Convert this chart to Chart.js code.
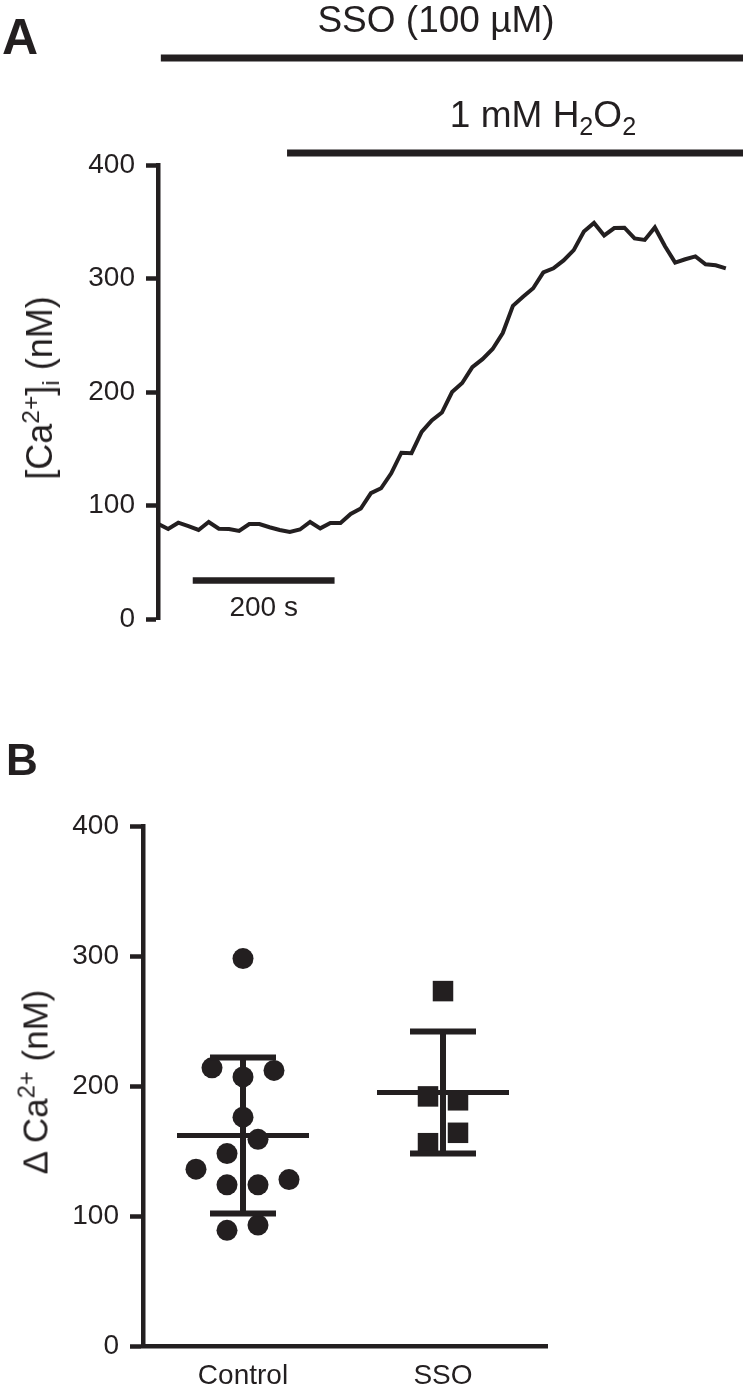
<!DOCTYPE html>
<html>
<head>
<meta charset="utf-8">
<script src="https://cdn.jsdelivr.net/npm/chart.js@4.4.1/dist/chart.umd.min.js"></script>
<style>
  body { margin: 0; background: #fff; font-family: "Liberation Sans", Arial, sans-serif; color: #231f20; }
  #page { position: relative; width: 743px; height: 1393px; overflow: hidden; }
  .box { position: absolute; left: 0; width: 743px; }
  .lbl { position: absolute; white-space: nowrap; line-height: 1; }
  .mid { transform: translateX(-50%); }
  .panel { font-weight: bold; }
  .rot { position: absolute; width: 0; height: 0; }
  .rot span { position: absolute; left: 0; top: 0; white-space: nowrap; line-height: 1;
              transform: translate(-50%, -50%) rotate(-90deg); }
  sub { font-size: 0.68em; vertical-align: -0.3em; line-height: 0; }
  sup { font-size: 0.68em; vertical-align: 0.55em; line-height: 0; }
</style>
</head>
<body>
<div id="page">
  <div class="box" style="top:0;height:647px"><canvas id="traceChart"></canvas></div>
  <div class="box" style="top:720px;height:675px"><canvas id="dotChart"></canvas></div>

  <div class="lbl panel" style="left:2px;top:12px;font-size:50px">A</div>
  <div class="lbl mid" style="left:436px;top:1px;font-size:37px">SSO (100 µM)</div>
  <div class="lbl mid" style="left:543px;top:96px;font-size:37px">1 mM H<sub>2</sub>O<sub>2</sub></div>
  <div class="rot" style="left:40px;top:388px"><span style="font-size:36px">[Ca<sup>2+</sup>]<sub>i</sub> (nM)</span></div>

  <div class="lbl panel" style="left:6px;top:738px;font-size:44px">B</div>
  <div class="rot" style="left:35px;top:1082px"><span style="font-size:35px">Δ Ca<sup>2+</sup> (nM)</span></div>
</div>

<script>
const INK = '#231f20';
const FONT = '"Liberation Sans", Arial, sans-serif';

// ---------- panel A: [Ca2+]i trace ----------
const sampleStep = 14.3;          // seconds between samples
const caTrace = [
  84, 79.5, 85, 82, 78.6, 85.6, 79.7, 79.5, 77.7, 83.8,
  83.8, 81, 78.6, 76.8, 79, 85.6, 80, 84.8, 84.8, 92.7,
  97.5, 111, 115.3, 128.5, 146.6, 146.2, 165, 175, 182, 200,
  208, 222, 229, 238, 252, 276, 284, 291.5, 305.5, 309,
  316, 325, 341.5, 349, 338, 344.5, 344.8, 335.3, 334, 345,
  328.5, 314, 317, 319.5, 312.6, 311.7, 309
];
const traceTimes = caTrace.map((_, i) => i * sampleStep);
const traceEnd = 825;             // s, right edge of panel A
const treatmentStart = [4, 182];  // SSO, H2O2 (s)
const scaleBarFrom = 49;          // s
const scaleBarSeconds = 200;
const scaleBarLevel = 34;         // nM
const yTicks = [0, 100, 200, 300, 400];

// ---------- panel B: delta Ca2+ ----------
const groups = ['Control', 'SSO'];
const controlX = [1, 0.845, 1, 1.155, 1, 1.075, 0.92, 0.765, 0.92, 1.075, 1.23, 0.92, 1.075];
const controlY = [298, 214, 207, 212, 176, 159, 148, 136, 124, 124, 128, 89, 93];
const ssoX = [2, 1.925, 2.075, 2.075, 1.925];
const ssoY = [273, 192, 189, 164, 156];
const groupMean = [162, 195];
const groupSD = [60, 47];

function yAxis(width, tickLen) {
    return {
        min: 0, max: 400,
        afterBuildTicks: s => { s.ticks = yTicks.map(v => ({ value: v })); },
        afterFit: s => { s.width = width; },
        ticks: { color: INK, font: { family: FONT, size: 28 }, padding: 11 },
        grid: { drawOnChartArea: false, tickLength: tickLen, tickWidth: 4.5, tickColor: INK },
        border: { display: true, color: INK, width: 4.5 }
    };
}

function stroke(ctx, x0, y0, x1, y1) {
    ctx.beginPath();
    ctx.moveTo(x0, y0);
    ctx.lineTo(x1, y1);
    ctx.stroke();
}

// treatment bars + 200 s scale bar
const traceMarks = {
    id: 'traceMarks',
    afterDraw(chart) {
        const { ctx, scales: { x, y } } = chart;
        const barRows = [58, 153];
        ctx.save();
        ctx.strokeStyle = INK;
        ctx.lineCap = 'butt';
        ctx.lineWidth = 7;
        treatmentStart.forEach((t, i) => {
            stroke(ctx, x.getPixelForValue(t), barRows[i], x.getPixelForValue(traceEnd), barRows[i]);
        });
        const sy = y.getPixelForValue(scaleBarLevel);
        const sx0 = x.getPixelForValue(scaleBarFrom);
        const sx1 = x.getPixelForValue(scaleBarFrom + scaleBarSeconds);
        ctx.lineWidth = 6.5;
        stroke(ctx, sx0, sy, sx1, sy);
        ctx.fillStyle = INK;
        ctx.font = '28px ' + FONT;
        ctx.textAlign = 'center';
        ctx.textBaseline = 'alphabetic';
        ctx.fillText(scaleBarSeconds + ' s', (sx0 + sx1) / 2, sy + 35);
        ctx.restore();
    }
};

// mean +/- SD
const errorBars = {
    id: 'errorBars',
    afterDatasetsDraw(chart) {
        const { ctx, scales: { x, y } } = chart;
        ctx.save();
        ctx.strokeStyle = INK;
        ctx.lineCap = 'butt';
        groupMean.forEach((m, i) => {
            const cx = x.getPixelForValue(i + 1);
            const my = y.getPixelForValue(m);
            const top = y.getPixelForValue(m + groupSD[i]);
            const bot = y.getPixelForValue(m - groupSD[i]);
            const meanHalf = x.getPixelForValue(i + 1.33) - cx;
            const capHalf = x.getPixelForValue(i + 1.165) - cx;
            ctx.lineWidth = 5;
            stroke(ctx, cx - meanHalf, my, cx + meanHalf, my);
            ctx.lineWidth = 6;
            stroke(ctx, cx, top, cx, bot);
            stroke(ctx, cx - capHalf, top, cx + capHalf, top);
            stroke(ctx, cx - capHalf, bot, cx + capHalf, bot);
        });
        ctx.restore();
    }
};

new Chart(document.getElementById('traceChart'), {
    type: 'line',
    data: {
        datasets: [{
            data: caTrace.map((v, i) => ({ x: traceTimes[i], y: v })),
            borderColor: INK,
            borderWidth: 4,
            pointRadius: 0,
            tension: 0
        }]
    },
    options: {
        responsive: true,
        maintainAspectRatio: false,
        animation: false,
        events: [],
        layout: { padding: { top: 165, right: 0, bottom: 22, left: 0 } },
        plugins: { legend: { display: false }, tooltip: { enabled: false } },
        scales: {
            x: { type: 'linear', min: 0, max: traceEnd, display: false },
            y: yAxis(158, 12)
        }
    },
    plugins: [traceMarks]
});

new Chart(document.getElementById('dotChart'), {
    type: 'scatter',
    data: {
        datasets: [
            {
                label: groups[0],
                data: controlY.map((v, i) => ({ x: controlX[i], y: v })),
                pointStyle: 'circle',
                pointRadius: 10.5,
                pointBorderWidth: 0,
                pointBackgroundColor: INK
            },
            {
                label: groups[1],
                data: ssoY.map((v, i) => ({ x: ssoX[i], y: v })),
                pointStyle: 'rect',
                pointRadius: 14.5,
                pointBorderWidth: 0,
                pointBackgroundColor: INK
            }
        ]
    },
    options: {
        responsive: true,
        maintainAspectRatio: false,
        animation: false,
        events: [],
        layout: { padding: { top: 106, right: 196, bottom: 0, left: 0 } },
        plugins: { legend: { display: false }, tooltip: { enabled: false } },
        scales: {
            x: {
                type: 'linear', min: 0.5, max: 2.52,
                afterBuildTicks: s => { s.ticks = groups.map((_, i) => ({ value: i + 1 })); },
                afterFit: s => { s.height = 49; },
                ticks: {
                    color: INK, font: { family: FONT, size: 28 }, padding: 13,
                    callback: (v, i) => groups[i]
                },
                grid: { drawOnChartArea: false, drawTicks: false },
                border: { display: true, color: INK, width: 4.5 }
            },
            y: yAxis(143, 13)
        }
    },
    plugins: [errorBars]
});
</script>
</body>
</html>
